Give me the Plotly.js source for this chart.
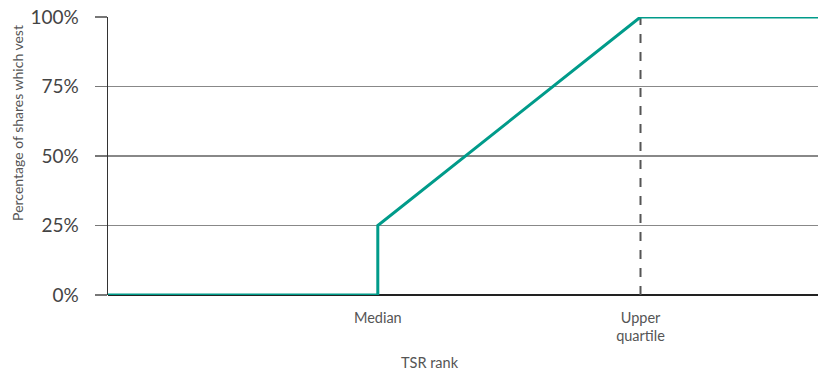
<!DOCTYPE html>
<html>
<head>
<meta charset="utf-8">
<script src="https://cdn.plot.ly/plotly-3.0.1.min.js"></script>
<style>
  html, body { margin: 0; padding: 0; background: #fff; }
  #chart { width: 818px; height: 374px; }
</style>
</head>
<body>
<div id="chart"></div>
<script>
// TSR rank positions on a 0-100 horizontal scale
var rankX = [0, 38, 38, 75, 100];
// Percentage of shares vesting at each point
var vestPct = [0, 0, 25, 100, 100];

// Labelled points on the rank axis
var rankTickVals = [38, 75];
var rankTickText = ["Median", "Upper<br>quartile"];

// Percentage gridlines
var pctTickVals = [0, 25, 50, 75, 100];
var pctTickText = pctTickVals.map(function (v) { return v + "%"; });

var upperQuartile = 75;

var font = "Lato, 'Open Sans', sans-serif";

var traces = [
  {
    x: [upperQuartile, upperQuartile],
    y: [0, 100],
    mode: "lines",
    line: { color: "#555555", width: 2, dash: "dash" },
    hoverinfo: "skip",
    showlegend: false
  },
  {
    x: rankX,
    y: vestPct,
    mode: "lines",
    line: { color: "#009b8a", width: 3 },
    showlegend: false,
    cliponaxis: false
  }
];

var layout = {
  width: 818,
  height: 374,
  margin: { l: 108, r: 0, t: 17, b: 79 },
  paper_bgcolor: "#ffffff",
  plot_bgcolor: "#ffffff",
  font: { family: font, color: "#444444" },
  showlegend: false,
  xaxis: {
    range: [0, 100],
    tickvals: rankTickVals,
    ticktext: rankTickText,
    ticks: "",
    showgrid: false,
    zeroline: false,
    showline: false,
    tickfont: { size: 14.5, color: "#555555" },
    ticklabelstandoff: 12,
    fixedrange: true
  },
  yaxis: {
    range: [0, 100],
    tickvals: pctTickVals,
    ticktext: pctTickText,
    ticks: "outside",
    ticklen: 12,
    tickcolor: "#777777",
    tickwidth: 1.5,
    showgrid: true,
    gridcolor: "#888888",
    gridwidth: 1.5,
    zeroline: true,
    zerolinecolor: "#222222",
    zerolinewidth: 1.5,
    showline: true,
    linecolor: "#333333",
    linewidth: 1.5,
    tickfont: { size: 19, color: "#444444" },
    ticklabelstandoff: 12,
    fixedrange: true
  },
  annotations: [
    {
      text: "Percentage of shares which vest",
      xref: "paper", yref: "paper",
      x: -0.1268, y: 0.619,
      xanchor: "center", yanchor: "middle",
      textangle: -90,
      showarrow: false,
      font: { size: 14, color: "#555555", family: font }
    },
    {
      text: "TSR rank",
      xref: "paper", yref: "paper",
      x: 0.4535, y: -0.2428,
      xanchor: "center", yanchor: "middle",
      showarrow: false,
      font: { size: 14.5, color: "#555555", family: font }
    }
  ]
};

Plotly.newPlot("chart", traces, layout, { displayModeBar: false, staticPlot: true });
</script>
</body>
</html>
